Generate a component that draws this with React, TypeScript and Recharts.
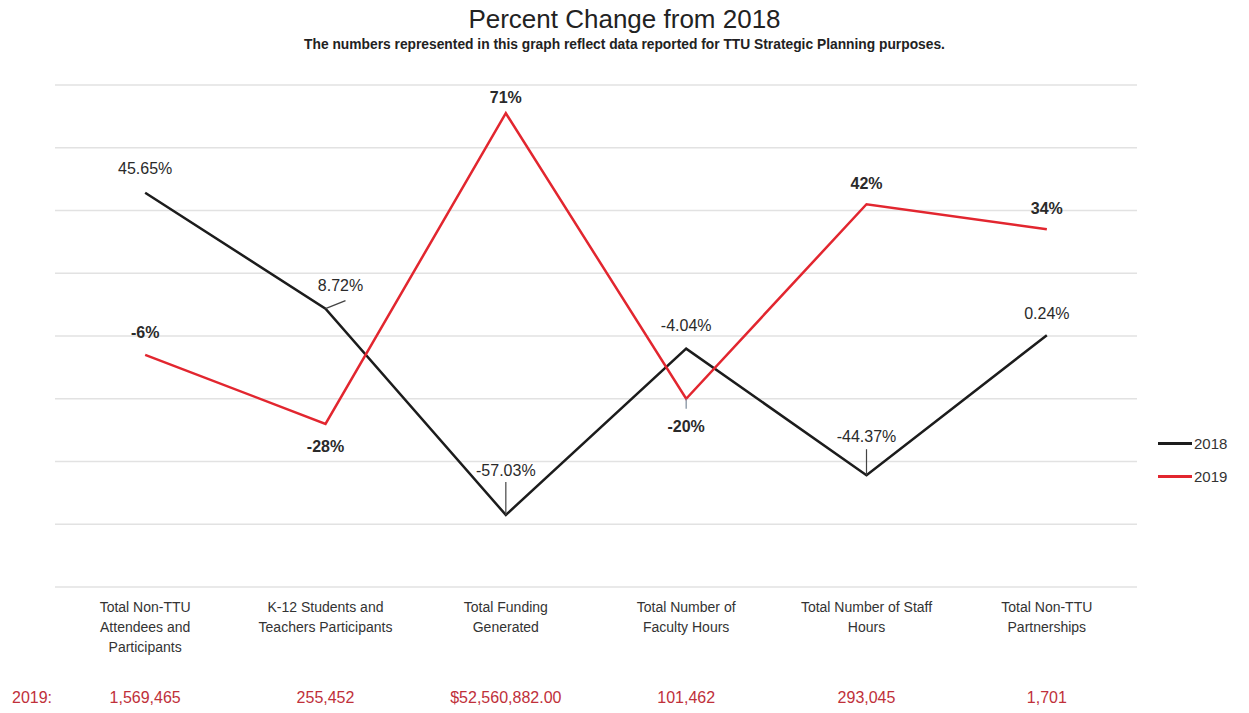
import React from 'react';
import { LineChart, Line, XAxis, YAxis, CartesianGrid, LabelList } from 'recharts';

const categories = [
  ['Total Non-TTU', 'Attendees and', 'Participants'],
  ['K-12 Students and', 'Teachers Participants'],
  ['Total Funding', 'Generated'],
  ['Total Number of', 'Faculty Hours'],
  ['Total Number of Staff', 'Hours'],
  ['Total Non-TTU', 'Partnerships'],
];
const change2018 = [45.65, 8.72, -57.03, -4.04, -44.37, 0.24];
const change2019 = [-6, -28, 71, -20, 42, 34];
const totals2019 = ['1,569,465', '255,452', '$52,560,882.00', '101,462', '293,045', '1,701'];
const yTicks = [-80, -60, -40, -20, 0, 20, 40, 60, 80];

const data = categories.map((c, i) => ({
  name: c.join(' '),
  y2018: change2018[i],
  y2019: change2019[i],
}));

const BLACK = '#1c1c1c';
const RED = '#e2262f';
const TEXT_RED = '#c0303a';
const FONT = '"Liberation Sans", Arial, sans-serif';

// label placement relative to each point (style only)
const place2018 = [
  { dx: 0, dy: -24 },
  { dx: 15, dy: -23, lx: 20, ly: -8 },
  { dx: 0, dy: -44, lx: 0, ly: -33 },
  { dx: 0, dy: -23 },
  { dx: 0, dy: -39, lx: 0, ly: -26 },
  { dx: 0, dy: -22 },
];
const place2019 = [
  { dx: 0, dy: -22 },
  { dx: 0, dy: 23 },
  { dx: 0, dy: -16 },
  { dx: 0, dy: 28, lx: 0, ly: 10 },
  { dx: 0, dy: -21 },
  { dx: 0, dy: -21 },
];

const makeLabel = (place: any[], bold: boolean, fmt: (v: number) => string) => (props: any) => {
  const { x, y, value, index } = props;
  const p = place[index];
  return (
    <g>
      {p.lx !== undefined && (
        <line x1={x} y1={y} x2={x + p.lx} y2={y + p.ly} stroke={bold ? '#7a8a9a' : '#444'} strokeWidth={1.2} />
      )}
      <text
        x={x + p.dx}
        y={y + p.dy}
        textAnchor="middle"
        dominantBaseline="central"
        fontSize={16}
        fontWeight={bold ? 'bold' : 'normal'}
        fill="#2a2a2a"
        fontFamily={FONT}
      >
        {fmt(value)}
      </text>
    </g>
  );
};

const CategoryTick = (props: any) => {
  const { x, y, payload } = props;
  const lines = categories[payload.index];
  return (
    <g>
      {lines.map((l, k) => (
        <text key={k} x={x} y={y + 25 + k * 20} textAnchor="middle" fontSize={14} fill="#333" fontFamily={FONT}>
          {l}
        </text>
      ))}
      <text x={x} y={y + 116} textAnchor="middle" fontSize={16} fill={TEXT_RED} fontFamily={FONT}>
        {totals2019[payload.index]}
      </text>
    </g>
  );
};

export default function App() {
  return (
    <div style={{ position: 'relative', width: 1249, height: 713, margin: -8, background: '#fff', fontFamily: FONT }}>
      <div style={{ position: 'absolute', top: 4, left: 0, width: 1249, textAlign: 'center', fontSize: 26, color: '#222' }}>
        Percent Change from 2018
      </div>
      <div style={{ position: 'absolute', top: 37, left: 0, width: 1249, textAlign: 'center', fontSize: 13.8, fontWeight: 'bold', color: '#222' }}>
        The numbers represented in this graph reflect data reported for TTU Strategic Planning purposes.
      </div>
      <div style={{ position: 'absolute', top: 689, left: 12, fontSize: 16, color: TEXT_RED }}>2019:</div>
      <div style={{ position: 'absolute', top: 427, left: 1158, fontSize: 15, color: '#333' }}>
        {[
          ['2018', BLACK],
          ['2019', RED],
        ].map(([n, c]) => (
          <div key={n} style={{ display: 'flex', alignItems: 'center', height: 33 }}>
            <div style={{ width: 34, height: 3, background: c, marginRight: 2 }} />
            <span>{n}</span>
          </div>
        ))}
      </div>
      <LineChart width={1249} height={713} data={data} margin={{ top: 85, left: 55, right: 112, bottom: 96 }}>
        <CartesianGrid vertical={false} stroke="#e2e2e2" strokeWidth={1.5} />
        <YAxis hide domain={[-80, 80]} ticks={yTicks} width={0} />
        <XAxis
          dataKey="name"
          scale="band"
          axisLine={false}
          tickLine={false}
          tickSize={0}
          tickMargin={0}
          height={30}
          interval={0}
          tick={<CategoryTick />}
        />
        <Line
          type="linear"
          dataKey="y2018"
          stroke={BLACK}
          strokeWidth={2.5}
          dot={false}
          activeDot={false}
          isAnimationActive={false}
        >
          <LabelList dataKey="y2018" content={makeLabel(place2018, false, (v) => v.toFixed(2) + '%')} />
        </Line>
        <Line
          type="linear"
          dataKey="y2019"
          stroke={RED}
          strokeWidth={2.5}
          dot={false}
          activeDot={false}
          isAnimationActive={false}
        >
          <LabelList dataKey="y2019" content={makeLabel(place2019, true, (v) => v + '%')} />
        </Line>
      </LineChart>
    </div>
  );
}
